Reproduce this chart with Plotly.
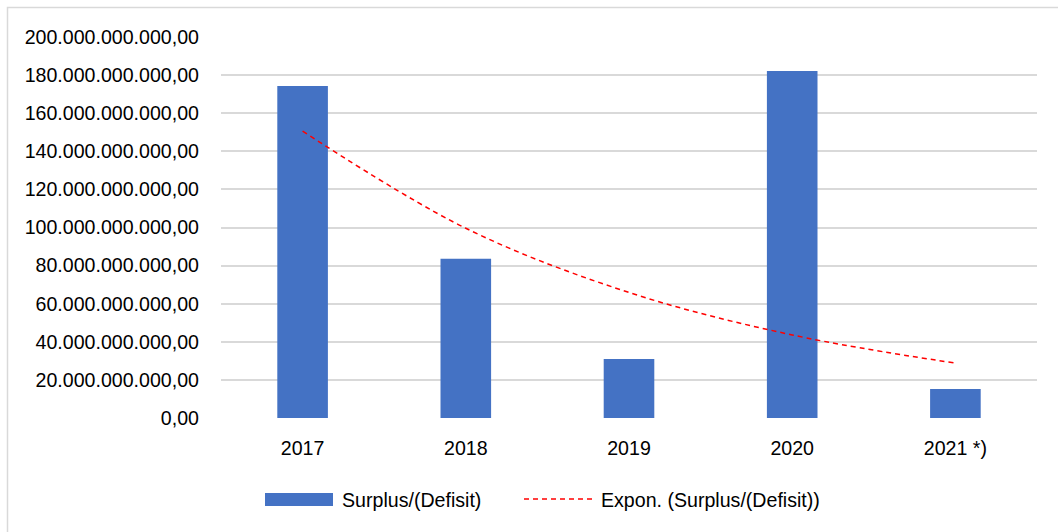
import plotly.graph_objects as go

# Annual surplus/(deficit) values in rupiah
years = ["2017", "2018", "2019", "2020", "2021 *)"]
surplus = [174.3e9, 83.6e9, 31.0e9, 182.2e9, 15.2e9]
# Exponential trendline values at each year
expon_trend = [150.6e9, 99.6e9, 65.9e9, 43.6e9, 28.8e9]

y_ticks = [0, 20e9, 40e9, 60e9, 80e9, 100e9, 120e9, 140e9, 160e9, 180e9, 200e9]

BAR_COLOR = "#4472C4"
TREND_COLOR = "#FF0000"
GRID_COLOR = "#D9D9D9"
FONT = "Liberation Sans, Arial, sans-serif"
FSIZE = 19.6

W, H = 1058, 532
L, R, T, B = 221, 21, 37, 114
PW, PH = W - L - R, H - T - B


def px(xp):
    return (xp - L) / PW


def py(yp):
    return (H - B - yp) / PH


fig = go.Figure()
fig.add_trace(go.Bar(
    x=years, y=surplus, name="Surplus/(Defisit)",
    marker=dict(color=BAR_COLOR, line=dict(width=0)),
    showlegend=False,
))
fig.add_trace(go.Scatter(
    x=years, y=expon_trend, name="Expon. (Surplus/(Defisit))",
    mode="lines", line=dict(color=TREND_COLOR, width=1.5, dash="5px,4px", shape="spline"),
    showlegend=False,
))

shapes = [
    # outer chart frame
    dict(type="rect", xref="paper", yref="paper",
         x0=px(7.5), x1=px(1064), y0=py(540), y1=py(7.5),
         line=dict(color=GRID_COLOR, width=1.5), fillcolor="rgba(0,0,0,0)", layer="below"),
    # legend swatches
    dict(type="rect", xref="paper", yref="paper",
         x0=px(265), x1=px(333), y0=py(506), y1=py(493),
         line=dict(width=0), fillcolor=BAR_COLOR),
    dict(type="line", xref="paper", yref="paper",
         x0=px(524), x1=px(593), y0=py(499), y1=py(499),
         line=dict(color=TREND_COLOR, width=1.5, dash="5px,4px")),
]

annotations = [
    dict(text="Surplus/(Defisit)", xref="paper", yref="paper",
         x=px(340), y=py(499.5), xanchor="left", yanchor="middle", showarrow=False,
         font=dict(family=FONT, size=FSIZE, color="#000000")),
    dict(text="Expon. (Surplus/(Defisit))", xref="paper", yref="paper",
         x=px(599), y=py(499.5), xanchor="left", yanchor="middle", showarrow=False,
         font=dict(family=FONT, size=FSIZE, color="#000000")),
]

fig.update_layout(
    width=W, height=H,
    margin=dict(l=L, r=R, t=T, b=B, pad=0, autoexpand=False),
    paper_bgcolor="#FFFFFF", plot_bgcolor="#FFFFFF",
    separators=",.",
    bargap=0.69,
    font=dict(family=FONT, size=FSIZE, color="#000000"),
    shapes=shapes, annotations=annotations,
    showlegend=False,
)
fig.update_xaxes(
    type="category", range=[-0.5, 4.5], automargin=False,
    showgrid=False, zeroline=False, showline=False,
    ticks="", ticklabelstandoff=16,
    tickfont=dict(family=FONT, size=FSIZE, color="#000000"),
)
fig.update_yaxes(
    range=[0, 200e9], tickvals=y_ticks, tickformat=",.2f", automargin=False,
    showgrid=True, gridcolor=GRID_COLOR, gridwidth=2,
    zeroline=False, showline=False, ticks="", ticklabelstandoff=21,
    tickfont=dict(family=FONT, size=FSIZE, color="#000000"),
)

fig.write_html("out.html")
